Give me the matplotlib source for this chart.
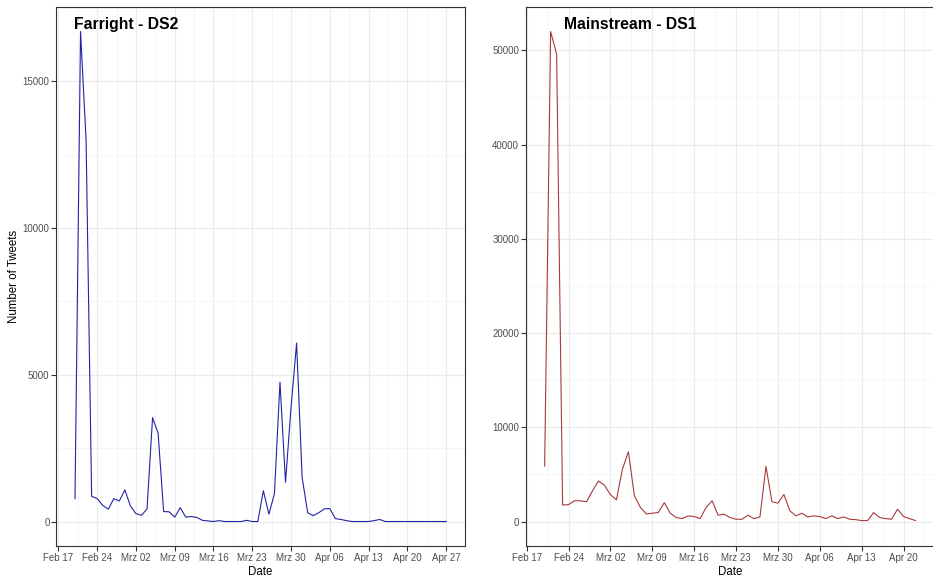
import numpy as np
import pandas as pd
import matplotlib
matplotlib.use("Agg")
import matplotlib.pyplot as plt
import matplotlib.dates as mdates

plt.rcParams['font.family'] = ['Liberation Sans', 'DejaVu Sans']

# Farright - DS2: daily tweet counts, Feb 20 - Apr 27 2020
far_dates = pd.date_range("2020-02-20", "2020-04-27", freq="D")
far_counts = [780, 16700, 13000, 860, 780, 550, 420, 780, 700, 1080,
              530, 270, 210, 430, 3540, 3010, 340, 330, 150, 470,
              150, 170, 140, 40, 20, 0, 30, 0, 0, 0,
              0, 40, 0, 0, 1050, 250, 950, 4750, 1340, 3900,
              6080, 1500, 300, 200, 300, 430, 440, 100, 70, 30,
              0, 0, 0, 0, 30, 70, 0, 0, 0, 0,
              0, 0, 0, 0, 0, 0, 0, 0]

# Mainstream - DS1: daily tweet counts, Feb 20 - Apr 22 2020
main_dates = pd.date_range("2020-02-20", "2020-04-22", freq="D")
main_counts = [5900, 52000, 49600, 1750, 1800, 2200, 2200, 2100, 3250, 4300,
               3850, 2850, 2300, 5550, 7400, 2750, 1500, 800, 880, 950,
               2000, 880, 420, 310, 600, 530, 310, 1500, 2200, 670,
               780, 420, 240, 240, 670, 310, 490, 5850, 2100, 1950,
               2870, 1130, 600, 880, 490, 600, 530, 310, 600, 310,
               490, 240, 200, 100, 100, 950, 420, 310, 240, 1310,
               530, 310, 100]

tick_dates = pd.date_range("2020-02-17", "2020-04-27", freq="7D")
tick_labels = ["Feb 17", "Feb 24", "Mrz 02", "Mrz 09", "Mrz 16", "Mrz 23",
               "Mrz 30", "Apr 06", "Apr 13", "Apr 20", "Apr 27"]

panels = [
    dict(dates=far_dates, counts=far_counts, title="Farright - DS2",
         color="#2323A6", ystep=5000, ymax=15000, tx=0.043, ylabel="Number of Tweets"),
    dict(dates=main_dates, counts=main_counts, title="Mainstream - DS1",
         color="#A83A3A", ystep=10000, ymax=50000, tx=0.094, ylabel=None),
]

fig = plt.figure(figsize=(9.33, 5.77), dpi=100)
rects = [[0.0605, 0.0537, 0.4376, 0.9341], [0.5639, 0.0537, 0.4372, 0.9341]]

for rect, p in zip(rects, panels):
    ax = fig.add_axes(rect)
    x = mdates.date2num(p["dates"])
    y = np.array(p["counts"])
    ax.plot(x, y, color=p["color"], lw=0.8)

    tx = mdates.date2num(tick_dates)
    ax.set_xticks(tx)
    ax.set_xticklabels(tick_labels)
    ax.set_xticks(tx[:-1] + 3.5, minor=True)
    yt = np.arange(0, p["ymax"] + 1, p["ystep"])
    ax.set_yticks(yt)
    ax.set_yticklabels([str(v) for v in yt])
    ax.set_yticks(np.arange(p["ystep"] / 2, y.max() * 1.05, p["ystep"]), minor=True)

    # ggplot-like 5% expansion (set after ticks so ticks don't widen limits)
    xr = x.max() - x.min()
    ax.set_xlim(x.min() - 0.05 * xr, x.max() + 0.05 * xr)
    ax.set_ylim(-0.05 * y.max(), 1.05 * y.max())

    ax.grid(which="major", color="#EBEBEB", lw=0.8)
    ax.grid(which="minor", color="#F2F2F2", lw=0.5)
    ax.set_axisbelow(True)
    for s in ax.spines.values():
        s.set_color("#333333")
        s.set_linewidth(0.8)
    ax.tick_params(which="major", length=3.5, width=0.8, color="#333333",
                   labelsize=7, labelcolor="#4D4D4D", pad=1.5)
    ax.tick_params(which="minor", length=0)

    ax.set_xlabel("Date", fontsize=8.3, labelpad=2)
    if p["ylabel"]:
        ax.set_ylabel(p["ylabel"], fontsize=8.3, labelpad=2)
    ax.text(p["tx"], 0.959, p["title"], transform=ax.transAxes,
            fontsize=11.3, fontweight="bold", va="baseline", ha="left")

plt.savefig("out.png", dpi=100)
